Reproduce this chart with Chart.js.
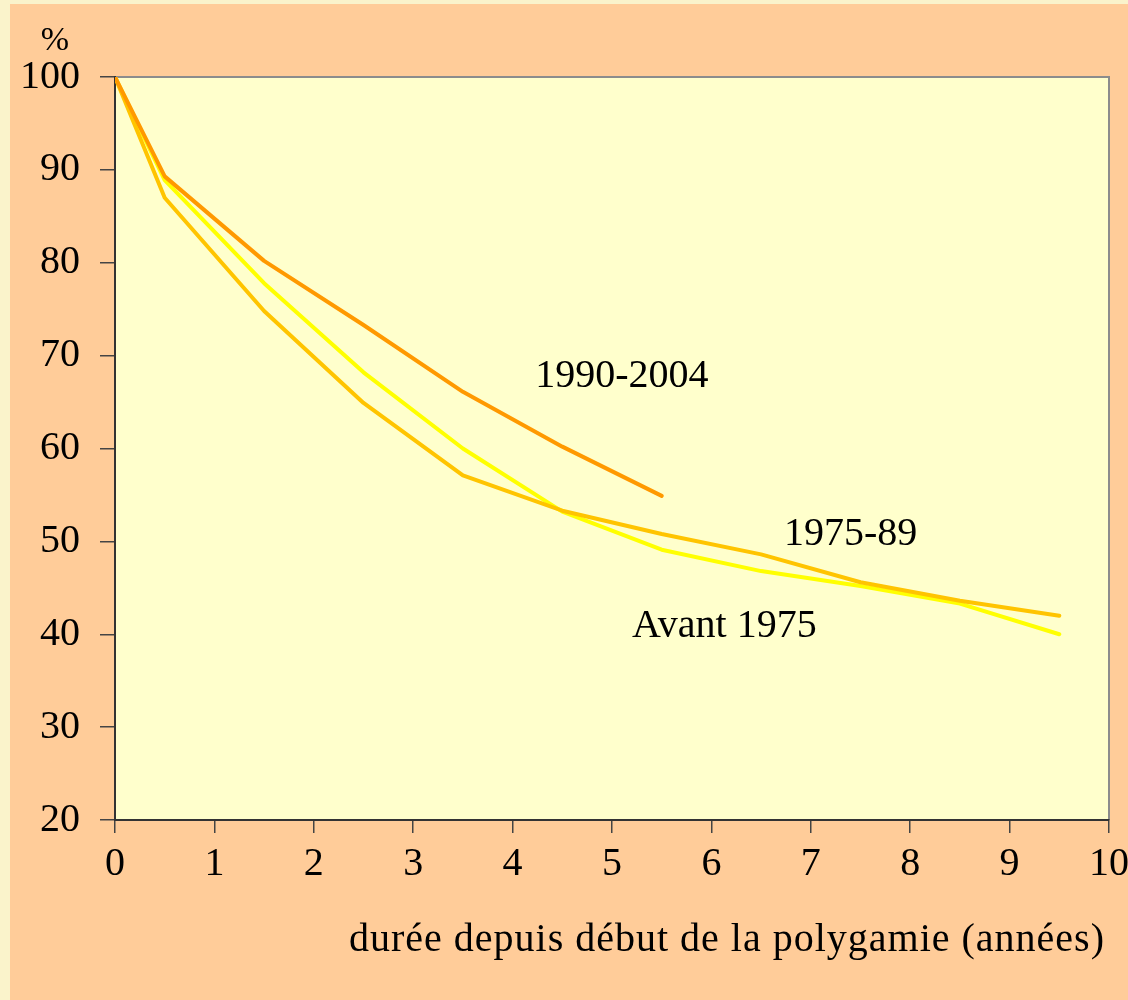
<!DOCTYPE html>
<html>
<head>
<meta charset="utf-8">
<script src="https://cdn.jsdelivr.net/npm/chart.js@4"></script>
<style>
  html, body { margin: 0; overflow: hidden; background: #FAF3CB; }
  #wrap { position: absolute; left: 10px; top: 4px; }
</style>
</head>
<body>
<div id="wrap"><canvas id="graficoPolygamie" width="1126" height="996"></canvas></div>
<script>
"use strict";

// durée depuis début de la polygamie (années)
const durees = [0, 0.5, 1.5, 2.5, 3.5, 4.5, 5.5, 6.5, 7.5, 8.5, 9.5];

// % encore en union polygame
const serie1990 = [100, 89.3, 80.2, 73.3, 66.1, 60.2, 54.9];
const serie1975 = [100, 87.0, 74.8, 64.9, 57.1, 53.3, 50.8, 48.6, 45.6, 43.6, 42.0];
const serieAvant = [100, 88.9, 77.8, 68.2, 60.0, 53.2, 49.1, 46.8, 45.2, 43.3, 40.0];

const nomsSeries = ["1990-2004", "1975-89", "Avant 1975"];
// position des étiquettes (unités des axes)
const etiquettesX = [5.1, 7.4, 6.13];
const etiquettesY = [67.8, 50.7, 40.8];

const titreX = "durée depuis début de la polygamie (années)";
const POLICE = "'Liberation Serif', 'DejaVu Serif', serif";

function points(valeurs) {
    return valeurs.map((v, i) => ({ x: durees[i], y: v }));
}

const fondPlugin = {
    id: "fond",
    beforeDraw(chart) {
        const { ctx, chartArea: a } = chart;
        ctx.save();
        ctx.fillStyle = "#FFCC99";
        ctx.fillRect(0, 0, chart.width, chart.height);
        ctx.fillStyle = "#FFFFCC";
        ctx.fillRect(a.left, a.top, a.right - a.left, a.bottom - a.top);
        // bord haut et droit gris
        ctx.strokeStyle = "#8C8C8C";
        ctx.lineWidth = 2;
        ctx.beginPath();
        ctx.moveTo(a.left, a.top);
        ctx.lineTo(a.right, a.top);
        ctx.lineTo(a.right, a.bottom);
        ctx.stroke();
        ctx.restore();
    },
    afterDraw(chart) {
        const { ctx, chartArea: a, scales } = chart;
        ctx.save();
        ctx.fillStyle = "#000";
        ctx.font = `40px ${POLICE}`;
        ctx.textAlign = "center";
        ctx.textBaseline = "middle";
        nomsSeries.forEach((nom, i) => {
            ctx.fillText(nom, scales.x.getPixelForValue(etiquettesX[i]), scales.y.getPixelForValue(etiquettesY[i]));
        });
        ctx.font = `34px ${POLICE}`;
        ctx.fillText("%", a.left - 60, a.top - 36);

        // titre de l'axe x, un peu espacé comme l'original
        ctx.font = `40px ${POLICE}`;
        ctx.letterSpacing = "1px";
        ctx.textAlign = "right";
        ctx.fillText(titreX, a.right - 4, 936);
        ctx.restore();
    }
};

new Chart(document.getElementById("graficoPolygamie").getContext("2d"), {
    type: "line",
    data: {
        datasets: [
            { label: nomsSeries[0], data: points(serie1990), borderColor: "#FF9900" },
            { label: nomsSeries[1], data: points(serie1975), borderColor: "#FFC400" },
            { label: nomsSeries[2], data: points(serieAvant), borderColor: "#FFFF00" }
        ]
    },
    options: {
        responsive: false,
        animation: false,
        layout: { padding: { top: 73, right: 0, left: 0, bottom: 0 } },
        elements: {
            line: { borderWidth: 4, tension: 0, fill: false, borderCapStyle: "round", borderJoinStyle: "round" },
            point: { radius: 0 }
        },
        plugins: {
            legend: { display: false },
            tooltip: { enabled: false }
        },
        scales: {
            x: {
                type: "linear",
                min: 0,
                max: 10,
                afterFit: (axis) => { axis.height = 180; },
                ticks: { stepSize: 1, color: "#000", padding: 7, maxRotation: 0, font: { family: POLICE, size: 40 } },
                grid: { drawOnChartArea: false, drawTicks: true, tickLength: 13, color: "#444", lineWidth: 1.5 },
                border: { color: "#333", width: 2 }
            },
            y: {
                min: 20,
                max: 100,
                afterFit: (axis) => { axis.width = 105; },
                ticks: { stepSize: 10, color: "#000", padding: 20, font: { family: POLICE, size: 40 } },
                grid: { drawOnChartArea: false, drawTicks: true, tickLength: 15, color: "#444", lineWidth: 1.5 },
                border: { color: "#333", width: 2 }
            }
        }
    },
    plugins: [fondPlugin]
});
</script>
</body>
</html>
